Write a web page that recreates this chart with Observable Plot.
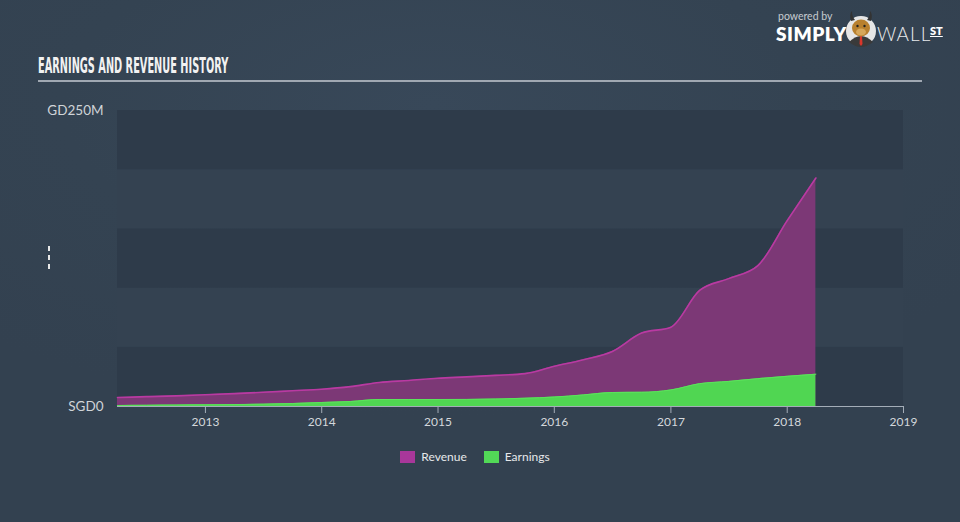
<!DOCTYPE html>
<html>
<head>
<meta charset="utf-8">
<script src="https://cdn.jsdelivr.net/npm/d3@7"></script>
<script src="https://cdn.jsdelivr.net/npm/@observablehq/plot@0.6"></script>
<style>
  html, body { margin: 0; padding: 0; }
  body { width: 960px; height: 522px; overflow: hidden;
    background: radial-gradient(ellipse 70% 60% at 45% 20%, #384859 0%, #344352 55%, #334150 100%);
    font-family: "Open Sans", "DejaVu Sans", sans-serif; position: relative; }
  #title { position: absolute; left: 38px; top: 55px; color: #f2f2f2;
    font-family: "DejaVu Sans Condensed", "DejaVu Sans"; font-weight: bold; font-size: 16px;
    transform-origin: 0 0; transform: scale(0.68, 1.28); white-space: nowrap; line-height: 1.15; }
  #rule { position: absolute; left: 38px; top: 80px; width: 884px; height: 2px; background: #a0a8b2; }
  #chart { position: absolute; left: 0; top: 0; }
  #legend { position: absolute; top: 449px; left: -5px; width: 960px; display: flex; justify-content: center;
    gap: 17px; color: #e6e8ea; font-size: 12px; font-family: "Lato", "Open Sans", sans-serif; }
  #legend .item { display: flex; align-items: center; }
  #legend .sw { width: 15px; height: 12px; margin-right: 6px; }
  #dash { position: absolute; left: 48px; top: 246px; width: 1.5px; height: 23px;
    background: repeating-linear-gradient(to bottom, #e8e8e8 0 5px, transparent 5px 9px); }
  #logo { position: absolute; left: 776px; top: 10px; color: #ffffff; line-height: 1; }
  #logo .pb { position: absolute; left: 2px; top: 1px; font-size: 10.5px; line-height: 10px; color: #c6cbd0; white-space: nowrap; font-family: "Lato", sans-serif; }
  #logo .simply { position: absolute; left: 0; top: 15px; font-size: 19px; line-height: 18px; font-weight: 800; letter-spacing: 0.5px; font-family: "Lato", sans-serif; }
  #logo .wall { position: absolute; left: 101px; top: 15px; font-size: 19px; line-height: 18px; font-weight: 300; letter-spacing: 1px; font-family: "Lato", sans-serif; color: #e8eaec; }
  #logo .st { position: absolute; left: 154px; top: 15px; font-size: 11px; line-height: 11px; font-weight: 800; text-decoration: underline; font-family: "Lato", sans-serif; }
  #logo svg { position: absolute; left: 68px; top: -2px; }
</style>
</head>
<body>
<div id="title">EARNINGS AND REVENUE HISTORY</div>
<div id="rule"></div>
<div id="dash"></div>
<div id="chart"></div>
<div id="logo">
  <div class="pb">powered by</div>
  <div class="simply">SIMPLY</div>
  <svg width="34" height="40" viewBox="0 0 34 40">
    <circle cx="17" cy="23" r="15" fill="#e6e6e6"/>
    <path d="M5 34 Q17 22 29 34 Q23 39 17 39 Q11 39 5 34Z" fill="#3a3a3a"/>
    <path d="M16 28 L18 28 L18.5 36 L17 38 L15.5 36Z" fill="#d9362b"/>
    <ellipse cx="17" cy="20" rx="9" ry="8.5" fill="#b8802e"/>
    <ellipse cx="17" cy="24" rx="5" ry="3.5" fill="#d7a75a"/>
    <path d="M7 13 Q5 6 8 3 Q8 9 11 12Z" fill="#333"/>
    <path d="M27 13 Q29 6 26 3 Q26 9 23 12Z" fill="#333"/>
    <circle cx="13.5" cy="18" r="1.2" fill="#222"/>
    <circle cx="20.5" cy="18" r="1.2" fill="#222"/>
  </svg>
  <div class="wall">WALL</div>
  <div class="st">ST</div>
</div>
<div id="legend">
  <div class="item"><div class="sw" style="background:#a8379a"></div>Revenue</div>
  <div class="item"><div class="sw" style="background:#52d957"></div>Earnings</div>
</div>
<script>
// ---- data (SGD millions) ----
const dates = ["2012-03-31","2012-07-01","2012-10-01","2013-01-01","2013-04-01","2013-07-01","2013-10-01",
  "2014-01-01","2014-04-01","2014-07-01","2014-10-01","2015-01-01","2015-04-01","2015-07-01","2015-10-01",
  "2016-01-01","2016-04-01","2016-07-01","2016-10-01","2017-01-01","2017-04-01","2017-07-01","2017-10-01",
  "2018-01-01","2018-04-01"];
const revenue = [7.6, 8.3, 9.0, 9.9, 10.9, 12.0, 13.3, 14.6, 16.8, 20.3, 22.0, 23.9, 25.0, 26.3, 27.8,
  34.0, 39.5, 46.5, 62.0, 67.0, 98.0, 108.0, 119.0, 157.0, 193.0];
const earnings = [0.8, 1.0, 1.2, 1.4, 1.6, 2.0, 2.5, 3.4, 4.2, 5.9, 5.9, 5.9, 6.0, 6.3, 7.0,
  8.0, 9.8, 11.8, 12.0, 14.0, 19.3, 21.2, 23.5, 25.5, 27.3];
const bandStarts = [0, 50, 100, 150, 200];
const bandStep = 50;
const yTicks = [0, 250];
const yTickLabels = ["SGD0", "GD250M"];
const xStart = "2012-03-31";
const xEnd = "2019-01-01";

const parse = d3.utcParse("%Y-%m-%d");
const rev = dates.map((d, i) => ({date: parse(d), value: revenue[i]}));
const earn = dates.map((d, i) => ({date: parse(d), value: earnings[i]}));
const bands = bandStarts.map((b, i) => ({y1: b, y2: b + bandStep, dark: i % 2 === 0}));

const chart = Plot.plot({
  width: 960,
  height: 440,
  marginLeft: 117,
  marginRight: 57,
  marginTop: 110,
  marginBottom: 34,
  style: {background: "transparent", color: "#d4d8dc", fontFamily: "Lato, 'Open Sans', sans-serif"},
  x: {type: "utc", domain: [parse(xStart), parse(xEnd)]},
  y: {domain: [0, 250]},
  marks: [
    Plot.rect(bands, {y1: "y1", y2: "y2", fill: d => d.dark ? "#2e3b4a" : "#344251"}),
    Plot.areaY(rev, {x: "date", y: "value", fill: "#7c3876", curve: "monotone-x"}),
    Plot.lineY(rev, {x: "date", y: "value", stroke: "#b93aa2", strokeWidth: 1.6, curve: "monotone-x"}),
    Plot.areaY(earn, {x: "date", y: "value", fill: "#50d652", curve: "monotone-x"}),
    Plot.lineY(earn, {x: "date", y: "value", stroke: "#5ce35c", strokeWidth: 1, curve: "monotone-x"}),
    Plot.ruleY([0], {stroke: "#a4adb8", strokeWidth: 1.2}),
    Plot.axisX({ticks: d3.utcYear.every(1), tickFormat: d3.utcFormat("%Y"), tickSize: 7, tickPadding: 4,
      stroke: "#a4adb8", fill: "#d4d8dc", fontSize: 12}),
    Plot.axisY({ticks: yTicks, tickFormat: (d, i) => yTickLabels[yTicks.indexOf(d)], tickSize: 0, tickPadding: 14,
      fill: "#d0d4d8", fontSize: 13.5})
  ]
});
document.getElementById("chart").appendChild(chart);
</script>
</body>
</html>
